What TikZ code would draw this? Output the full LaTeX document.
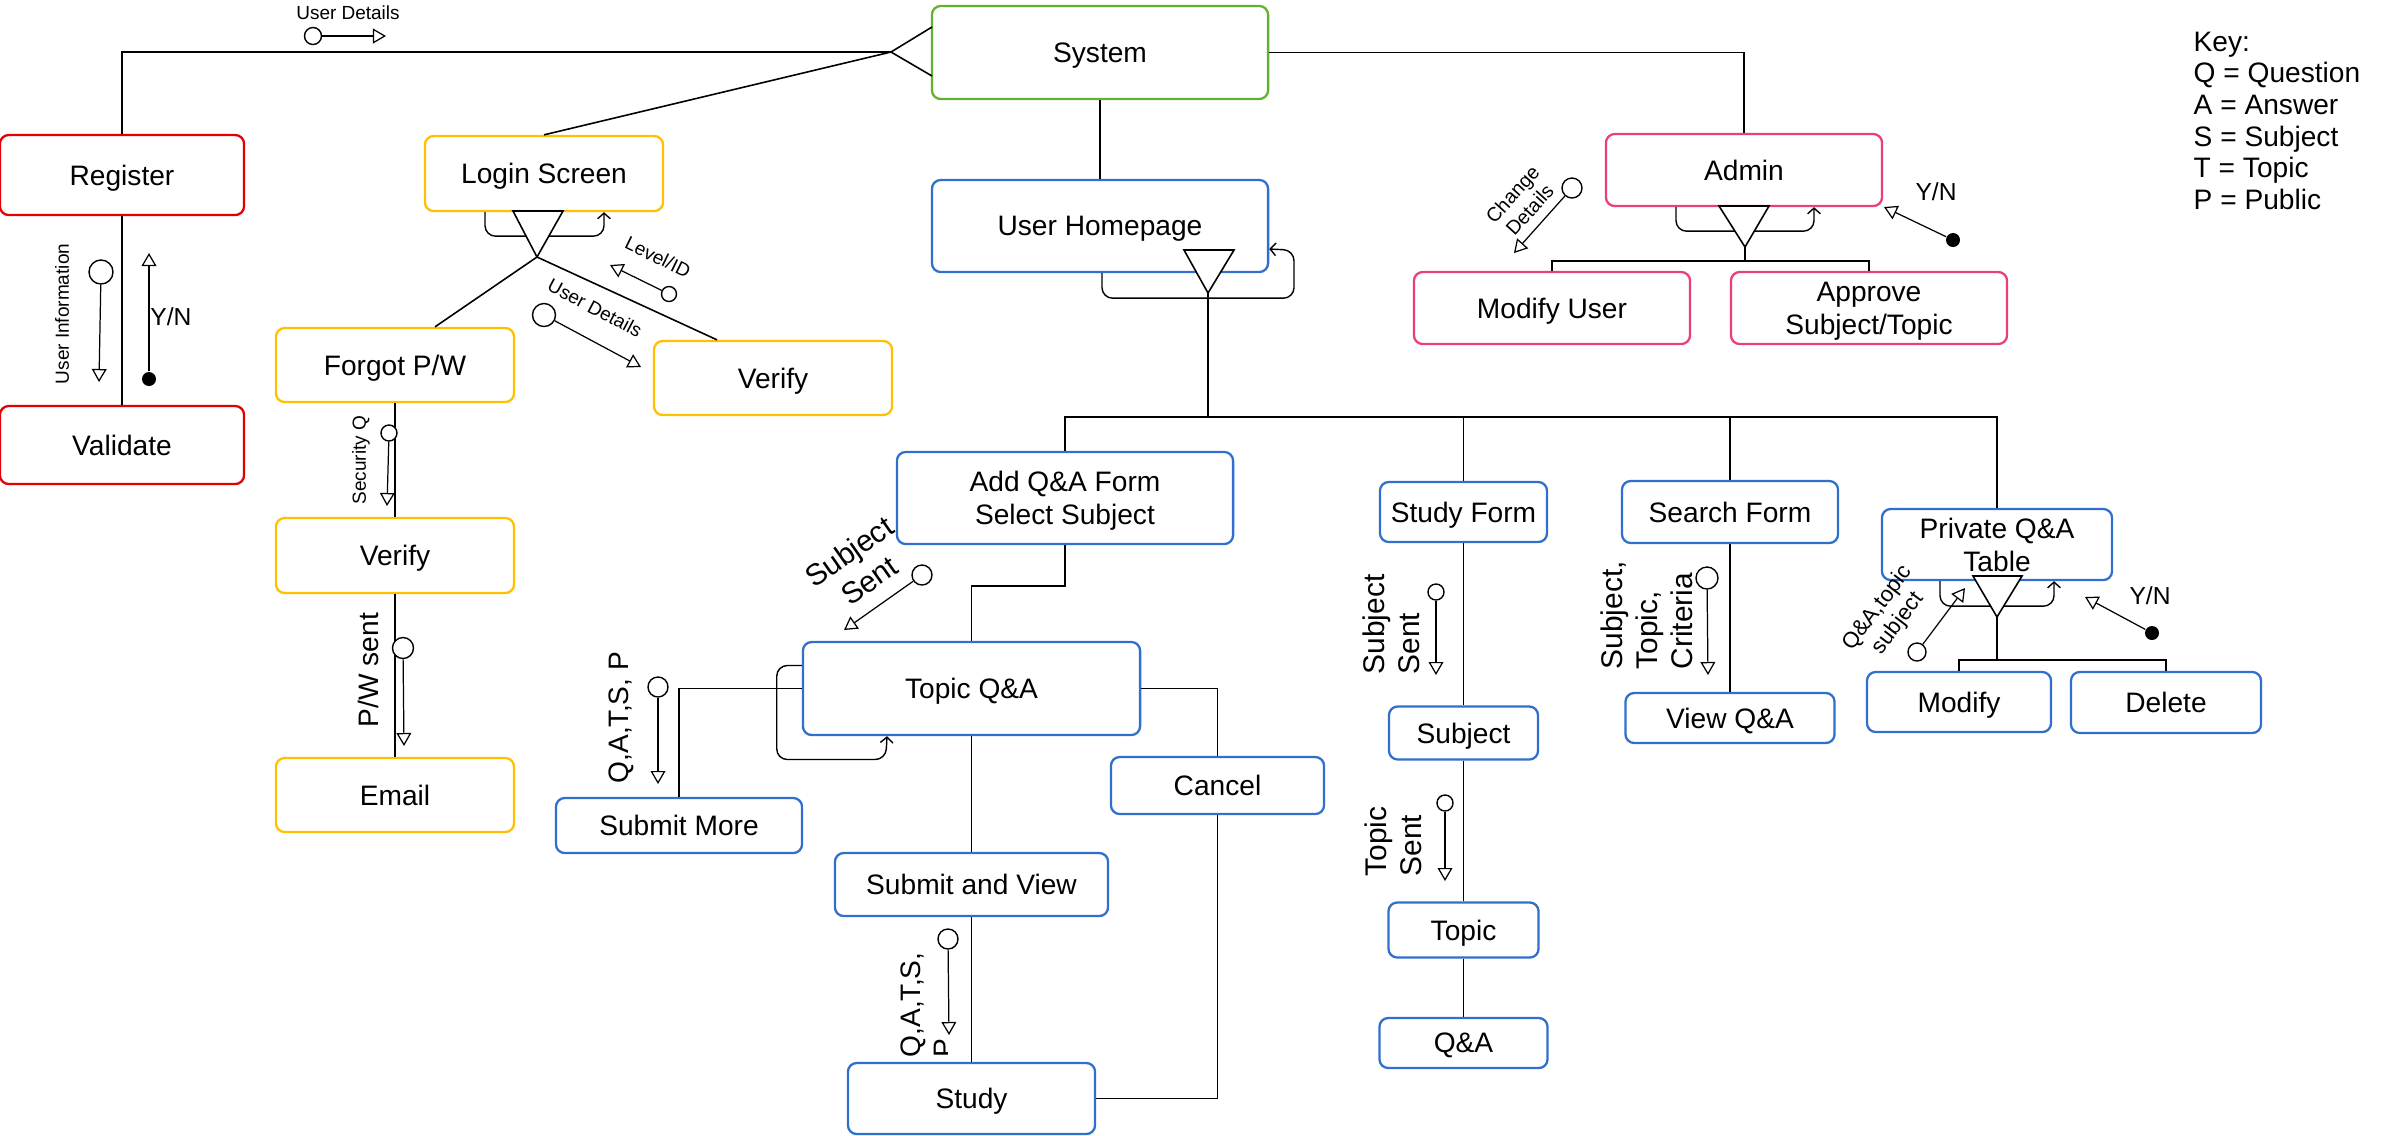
\documentclass[tikz,border=0pt]{standalone}
\usepackage{fontspec}
\setmainfont{Liberation Sans}
\usepackage{xcolor}
\usepackage{tikz}
\usetikzlibrary{arrows.meta,calc}

\definecolor{sysgreen}{RGB}{98,178,48}
\definecolor{regred}{RGB}{226,0,0}
\definecolor{loggold}{RGB}{255,192,0}
\definecolor{formblue}{RGB}{48,112,204}
\definecolor{adminpink}{RGB}{234,64,122}
\newcommand{\boxfont}{\fontsize{8}{9.4}\selectfont}
\newcommand{\flowfont}{\fontsize{8.5}{10}\selectfont}
\newcommand{\notefont}{\fontsize{5.4}{6.4}\selectfont}
\newcommand{\flagfont}{\fontsize{7}{8}\selectfont}

\begin{document}
\begin{tikzpicture}[x=0.01cm,y=-0.01cm,
  box/.style={draw,rounded corners=2.5pt,line width=0.65pt,fill=white,align=center,inner sep=0pt,text depth=0pt,font=\boxfont},
  sysbox/.style={box,draw=sysgreen},
  regbox/.style={box,draw=regred},
  logbox/.style={box,draw=loggold},
  formbox/.style={box,draw=formblue},
  adminbox/.style={box,draw=adminpink},
  link/.style={line width=0.45pt},
  couple/.style={line width=0.35pt,-{Triangle[open,length=3.7pt,width=4.2pt]}},
  datum/.style={circle,draw,line width=0.4pt,fill=white,inner sep=0pt,minimum size=#1},
  datum/.default=0.2cm,
  flag/.style={circle,fill=black,inner sep=0pt,minimum size=0.14cm},
  loopback/.style={line width=0.4pt,rounded corners=3pt,-{Straight Barb[length=1.6pt,width=3.6pt]}},
  fork/.style={line width=0.45pt,fill=white},
  note/.style={inner sep=0pt,font=\notefont,align=center},
  flow/.style={inner sep=0pt,font=\flowfont,align=left},
  yn/.style={inner sep=0pt,font=\flagfont}]
  \useasboundingbox (0,0) rectangle (2387,1135);

  \node[sysbox,minimum width=3.36cm,minimum height=0.93cm] (sys) at (1100,52.5) {System};
  \node[regbox,minimum width=2.44cm,minimum height=0.8cm] (reg) at (122,175) {Register};
  \node[regbox,minimum width=2.44cm,minimum height=0.78cm] (val) at (122,445) {Validate};
  \node[logbox,minimum width=2.38cm,minimum height=0.75cm] (login) at (544,173.5) {Login Screen};
  \node[logbox,minimum width=2.38cm,minimum height=0.74cm] (lverify) at (773,378) {Verify};
  \node[logbox,minimum width=2.38cm,minimum height=0.74cm] (forgot) at (395,365) {Forgot P/W};
  \node[logbox,minimum width=2.38cm,minimum height=0.75cm] (fverify) at (395,555.5) {Verify};
  \node[logbox,minimum width=2.38cm,minimum height=0.74cm] (email) at (395,795) {Email};
  \node[formbox,minimum width=3.36cm,minimum height=0.92cm] (home) at (1100,226) {User Homepage};
  \node[adminbox,minimum width=2.76cm,minimum height=0.72cm] (admin) at (1744,170) {Admin};
  \node[adminbox,minimum width=2.76cm,minimum height=0.72cm] (moduser) at (1552,308) {Modify User};
  \node[adminbox,minimum width=2.76cm,minimum height=0.72cm] (approve) at (1869,308) {Approve\\Subject/Topic};
  \node[formbox,minimum width=3.36cm,minimum height=0.92cm] (addqa) at (1065,498) {Add Q\&A Form\\Select Subject};
  \node[formbox,minimum width=3.37cm,minimum height=0.93cm] (topicqa) at (971.5,688.5) {Topic Q\&A};
  \node[formbox,minimum width=2.13cm,minimum height=0.57cm] (cancel) at (1217.5,785.5) {Cancel};
  \node[formbox,minimum width=2.46cm,minimum height=0.55cm] (submore) at (679,825.5) {Submit More};
  \node[formbox,minimum width=2.73cm,minimum height=0.63cm] (subview) at (971.5,884.5) {Submit and View};
  \node[formbox,minimum width=2.47cm,minimum height=0.71cm] (study) at (971.5,1098.5) {Study};
  \node[formbox,minimum width=1.67cm,minimum height=0.6cm] (studyform) at (1463.5,512) {Study Form};
  \node[formbox,minimum width=1.49cm,minimum height=0.53cm] (subj) at (1463.5,733) {Subject};
  \node[formbox,minimum width=1.5cm,minimum height=0.55cm] (topic) at (1463.5,930) {Topic};
  \node[formbox,minimum width=1.68cm,minimum height=0.5cm] (qa) at (1463.5,1043) {Q\&A};
  \node[formbox,minimum width=2.16cm,minimum height=0.62cm] (search) at (1730,512) {Search Form};
  \node[formbox,minimum width=2.09cm,minimum height=0.5cm] (viewqa) at (1730,718) {View Q\&A};
  \node[formbox,minimum width=2.3cm,minimum height=0.71cm] (private) at (1997,544.5) {Private Q\&A\\Table};
  \node[formbox,minimum width=1.84cm,minimum height=0.6cm] (modify) at (1959,702) {Modify};
  \node[formbox,minimum width=1.9cm,minimum height=0.61cm] (delete) at (2166,702.5) {Delete};
  \node[anchor=north west,align=left,inner sep=0pt,font=\fontsize{8}{9}\selectfont] (key) at (2193,31)
    {Key:\\Q = Question\\A = Answer\\S = Subject\\T = Topic\\P = Public};

  \coordinate (sysfork) at (891,52);
  \draw[link] (sysfork) -| (reg.north);
  \draw[link] (sysfork) -- (login.north);
  \draw[link] (sysfork) -- ++(41,-25) (sysfork) -- ++(41,24);
  \draw[link] (sys.east) -| (admin.north);
  \draw[link] (sys.south) -- (home.north);
  \node[note] (udtop) at (348,13) {User Details};
  \node[datum=0.17cm] (udc) at (313,36) {};
  \coordinate (udt) at (386,36);
  \draw[couple] (udc) -- (udt);

  \draw[link] (reg) -- (val);
  \node[note,rotate=90] (uinfo) at (62,314) {User Information};
  \node[datum=0.24cm] (uic) at (101,272) {};
  \coordinate (uit) at (99,382);
  \draw[couple] (uic) -- (uit);
  \node[flag] (regflag) at (149,379) {};
  \coordinate (regflagt) at (149,253);
  \draw[couple] (regflag) -- (regflagt);
  \node[yn] (regyn) at (171,317) {Y/N};

  \coordinate (logfork) at (537,257);
  \draw[loopback] ($(login.south)+(-59,0)$) -- ++(0,24) -- ++(119,0) -- ($(login.south)+(60,0)$);
  \draw[fork] (logfork) -- ++(-24,-46) -- ++(50,0) -- cycle;
  \draw[link] (logfork) -- ($(forgot.north)+(40,0)$);
  \draw[link] (logfork) -- ($(lverify.north)+(-56,0)$);
  \node[note,rotate=-26] (lvl) at (658,257) {Level/ID};
  \node[datum=0.15cm] (lvlc) at (669,294) {};
  \coordinate (lvlt) at (610,265);
  \draw[couple] (lvlc) -- (lvlt);
  \node[note,rotate=-28] (udlog) at (595,308) {User Details};
  \node[datum=0.23cm] (udlc) at (544,315) {};
  \coordinate (udlt) at (641,367);
  \draw[couple] (udlc) -- (udlt);

  \draw[link] (forgot) -- (fverify);
  \draw[link] (fverify) -- (email);
  \node[note,rotate=90] (secq) at (361,460) {Security Q};
  \node[datum=0.16cm] (secc) at (389,433) {};
  \coordinate (sect) at (387,506);
  \draw[couple] (secc) -- (sect);
  \node[flow,rotate=90,font=\boxfont] (pwsent) at (368,670) {P/W sent};
  \node[datum=0.21cm] (pwc) at (403,648) {};
  \coordinate (pwt) at (404,746);
  \draw[couple] (pwc) -- (pwt);

  \coordinate (homefork) at (1208,293);
  \coordinate (homebus) at (1208,417);
  \draw[loopback] ($(home.south)+(2,0)$) -- ++(0,25) -- ++(192,0) -- ++(0,-48) -- ($(home.east)+(0,23)$);
  \draw[fork] (homefork) -- ++(-24,-43) -- ++(50,0) -- cycle;
  \draw[link] (homefork) -- (homebus);
  \draw[link] (addqa.north) |- (homebus) -| (private.north);
  \draw[link] (studyform.north) -- (studyform.north |- homebus);
  \draw[link] (search.north) -- (search.north |- homebus);

  \draw[link] (addqa.south) -- ++(0,41) -| (topicqa.north);
  \node[flow,rotate=35,align=center] (subsent) at (859,566) {Subject\\Sent};
  \node[datum=0.2cm] (ssc) at (922,575) {};
  \coordinate (sst) at (844,630);
  \draw[couple] (ssc) -- (sst);

  \draw[link] (topicqa.west) -| (submore.north);
  \draw[loopback] ($(topicqa.west)+(0,-23)$) -- ++(-25,0) -- ++(0,94) -- ++(109,0) -- ($(topicqa.south)+(-84.5,0)$);
  \node[flow,rotate=90,anchor=west,font=\boxfont] (qatsp) at (621,784) {Q,A,T,S, P};
  \node[datum=0.2cm] (qac) at (658,687) {};
  \coordinate (qat) at (658,784);
  \draw[couple] (qac) -- (qat);

  \draw[link] (topicqa.east) -| (cancel.north);
  \draw[link] (cancel.south) |- (study.east);
  \draw[link] (topicqa) -- (subview);
  \draw[link] (subview) -- (study);
  \begin{scope}
    \clip (880,900) rectangle (947,1062);
    \node[flow,rotate=90,anchor=north west,font=\boxfont] (qatsp2) at (900,1058) {Q,A,T,S,\\P};
  \end{scope}
  \node[datum=0.2cm] (qac2) at (948,939) {};
  \coordinate (qat2) at (949,1035);
  \draw[couple] (qac2) -- (qat2);

  \draw[link] (studyform) -- (subj);
  \draw[link] (subj) -- (topic);
  \draw[link] (topic) -- (qa);
  \node[flow,rotate=90,anchor=north west] (subsent2) at (1362,675) {Subject\\Sent};
  \node[datum=0.16cm] (ss2c) at (1436,592) {};
  \coordinate (ss2t) at (1436,675);
  \draw[couple] (ss2c) -- (ss2t);
  \node[flow,rotate=90,anchor=north west] (topsent) at (1364,877) {Topic\\Sent};
  \node[datum=0.16cm] (tsc) at (1445,803) {};
  \coordinate (tst) at (1445,881);
  \draw[couple] (tsc) -- (tst);

  \draw[link] (search) -- (viewqa);
  \node[flow,rotate=90,anchor=north west] (crit) at (1600,670) {Subject,\\Topic,\\Criteria};
  \node[datum=0.22cm] (crc) at (1707,578) {};
  \coordinate (crt) at (1708,675);
  \draw[couple] (crc) -- (crt);

  \coordinate (privfork) at (1997,617);
  \coordinate (privbus) at (1997,660);
  \draw[loopback] ($(private.south)+(-57,0)$) -- ++(0,25) -- ++(114,0) -- ($(private.south)+(57,0)$);
  \draw[fork] (privfork) -- ++(-24,-41) -- ++(49,0) -- cycle;
  \draw[link] (privfork) -- (privbus);
  \draw[link] (modify.north) |- (privbus) -| (delete.north);
  \node[note,rotate=53,font=\fontsize{6.3}{7.2}\selectfont] (qatopic) at (1888,616) {Q\&A,topic\\subject};
  \node[datum=0.18cm] (qtc) at (1917,652) {};
  \coordinate (qtt) at (1965,588);
  \draw[couple] (qtc) -- (qtt);
  \node[flag] (privflag) at (2152,633) {};
  \coordinate (privflagt) at (2085,597);
  \draw[couple] (privflag) -- (privflagt);
  \node[yn] (privyn) at (2150,596) {Y/N};

  \coordinate (adminfork) at (1745,247);
  \coordinate (adminbus) at (1745,261);
  \draw[loopback] ($(admin.south)+(-68,0)$) -- ++(0,24) -- ++(138,0) -- ($(admin.south)+(70,0)$);
  \draw[fork] (adminfork) -- ++(-26,-41) -- ++(50,0) -- cycle;
  \draw[link] (adminfork) -- (adminbus);
  \draw[link] (moduser.north) |- (adminbus) -| (approve.north);
  \node[note,rotate=48,font=\fontsize{5.6}{6.6}\selectfont] (chg) at (1521,202) {Change\\Details};
  \node[datum=0.2cm] (chgc) at (1572,188) {};
  \coordinate (chgt) at (1514,253);
  \draw[couple] (chgc) -- (chgt);
  \node[flag] (adminflag) at (1953,240) {};
  \coordinate (adminflagt) at (1884,207);
  \draw[couple] (adminflag) -- (adminflagt);
  \node[yn] (adminyn) at (1936,192) {Y/N};
\end{tikzpicture}
\end{document}
